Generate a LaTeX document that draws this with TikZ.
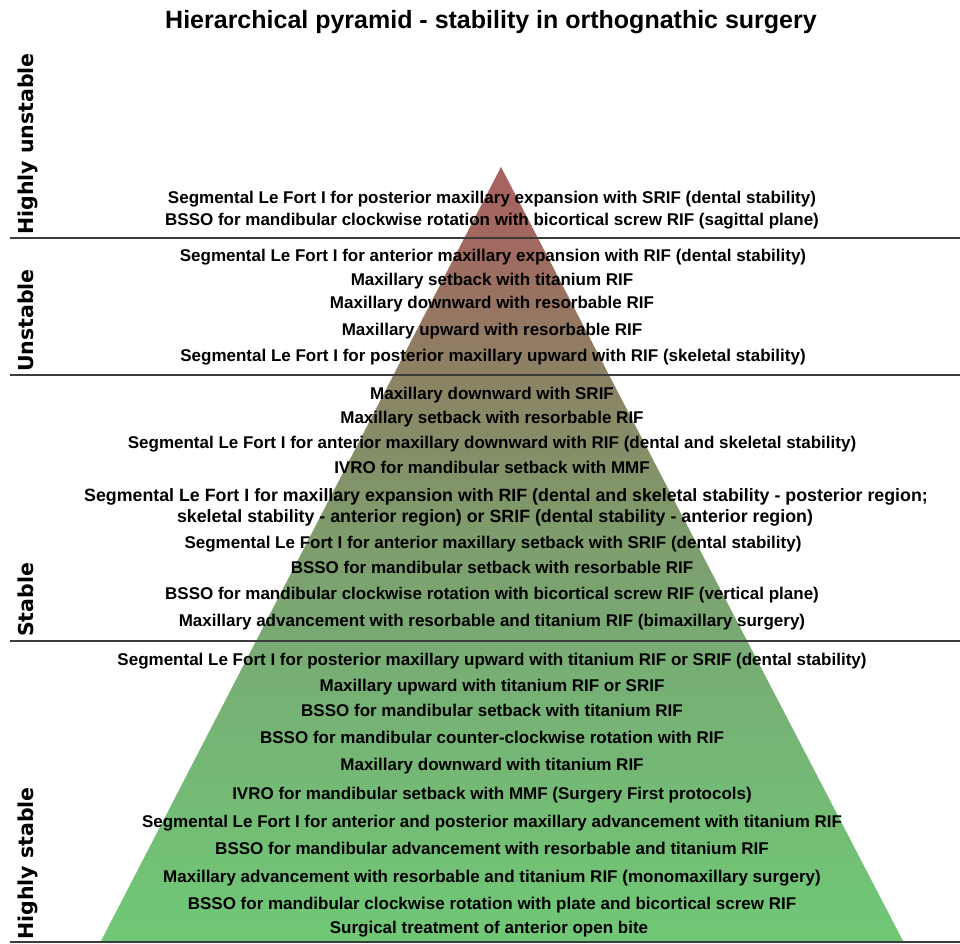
\documentclass[tikz,border=0pt]{standalone}
\usepackage{fontspec}
\setmainfont{Liberation Sans}
\newfontfamily\catfont{DejaVu Sans}
\definecolor{pTop}{RGB}{170,96,96}
\definecolor{pA}{RGB}{160,106,96}
\definecolor{pB}{RGB}{140,130,100}
\definecolor{pC}{RGB}{128,152,106}
\definecolor{pD}{RGB}{120,172,116}
\definecolor{pBot}{RGB}{112,200,118}
\definecolor{sepgray}{RGB}{60,60,60}
\pgfdeclareverticalshading{pyrshade}{100bp}{color(0bp)=(pBot); color(25bp)=(pBot); color(44bp)=(pD); color(53bp)=(pC); color(61.6bp)=(pB); color(69.6bp)=(pA); color(75bp)=(pTop); color(100bp)=(pTop)}
\tikzset{
  lbl/.style={anchor=base, inner sep=0pt, font=\fontsize{17}{21}\selectfont\bfseries, text=black},
  lblwide/.style={lbl, font=\fontsize{17.8}{21}\selectfont\bfseries},
  cat/.style={anchor=base west, rotate=90, inner sep=0pt, font=\catfont\fontsize{20.5}{24}\selectfont\bfseries, text=black},
  sepline/.style={draw=sepgray, line width=2pt},
  titlestyle/.style={anchor=base, inner sep=0pt, font=\fontsize{25}{30}\selectfont\bfseries}
}
\begin{document}
\begin{tikzpicture}[x=1pt,y=-1pt]
\useasboundingbox[fill=white] (0,0) rectangle (960,943);
% pyramid
\coordinate (apex) at (501,167);
\coordinate (bl) at (101,941);
\coordinate (br) at (903,941);
\path[shading=pyrshade] (apex) -- (br) -- (bl) -- cycle;
% title
\node[titlestyle] (title) at (491,28) {Hierarchical pyramid - stability in orthognathic surgery};
% separators
\coordinate (s1l) at (10,237.5); \coordinate (s1r) at (960,237.5);
\coordinate (s2l) at (10,374.5); \coordinate (s2r) at (960,374.5);
\coordinate (s3l) at (10,640.5); \coordinate (s3r) at (960,640.5);
\coordinate (s4l) at (10,941.5); \coordinate (s4r) at (960,941.5);
\draw[sepline] (s1l) -- (s1r);
\draw[sepline] (s2l) -- (s2r);
\draw[sepline] (s3l) -- (s3r);
\draw[sepline] (s4l) -- (s4r);
% category labels
\node[cat] (c1) at (33.5,235) {Highly unstable};
\node[cat] (c2) at (33.5,372) {Unstable};
\node[cat] (c3) at (33.5,637) {Stable};
\node[cat] (c4) at (33.5,940) {Highly stable};
% texts
\node[lbl] (t1) at (492,203) {Segmental Le Fort I for posterior maxillary expansion with SRIF (dental stability)};
\node[lbl] (t2) at (492,225) {BSSO for mandibular clockwise rotation with bicortical screw RIF (sagittal plane)};
\node[lbl] (t3) at (493,261) {Segmental Le Fort I for anterior maxillary expansion with RIF (dental stability)};
\node[lbl] (t4) at (492,285) {Maxillary setback with titanium RIF};
\node[lbl] (t5) at (492,308) {Maxillary downward with resorbable RIF};
\node[lbl] (t6) at (492,335) {Maxillary upward with resorbable RIF};
\node[lbl] (t7) at (493,361) {Segmental Le Fort I for posterior maxillary upward with RIF (skeletal stability)};
\node[lbl] (t8) at (492,399) {Maxillary downward with SRIF};
\node[lbl] (t9) at (492,423) {Maxillary setback with resorbable RIF};
\node[lbl] (t10) at (492,448) {Segmental Le Fort I for anterior maxillary downward with RIF (dental and skeletal stability)};
\node[lbl] (t11) at (492,473) {IVRO for mandibular setback with MMF};
\node[lblwide] (t12a) at (506,501) {Segmental Le Fort I for maxillary expansion with RIF (dental and skeletal stability - posterior region;};
\node[lblwide] (t12b) at (495,522) {skeletal stability - anterior region) or SRIF (dental stability - anterior region)};
\node[lbl] (t13) at (493,548) {Segmental Le Fort I for anterior maxillary setback with SRIF (dental stability)};
\node[lbl] (t14) at (492,573) {BSSO for mandibular setback with resorbable RIF};
\node[lbl] (t15) at (492,599) {BSSO for mandibular clockwise rotation with bicortical screw RIF (vertical plane)};
\node[lbl] (t16) at (492,626) {Maxillary advancement with resorbable and titanium RIF (bimaxillary surgery)};
\node[lbl] (t17) at (492,665) {Segmental Le Fort I for posterior maxillary upward with titanium RIF or SRIF (dental stability)};
\node[lbl] (t18) at (492,691) {Maxillary upward with titanium RIF or SRIF};
\node[lbl] (t19) at (492,716) {BSSO for mandibular setback with titanium RIF};
\node[lbl] (t20) at (492,743) {BSSO for mandibular counter-clockwise rotation with RIF};
\node[lbl] (t21) at (492,770) {Maxillary downward with titanium RIF};
\node[lbl] (t22) at (492,799) {IVRO for mandibular setback with MMF (Surgery First protocols)};
\node[lbl] (t23) at (492,827) {Segmental Le Fort I for anterior and posterior maxillary advancement with titanium RIF};
\node[lbl] (t24) at (492,854) {BSSO for mandibular advancement with resorbable and titanium RIF};
\node[lbl] (t25) at (492,882) {Maxillary advancement with resorbable and titanium RIF (monomaxillary surgery)};
\node[lbl] (t26) at (492,909) {BSSO for mandibular clockwise rotation with plate and bicortical screw RIF};
\node[lbl] (t27) at (489,933) {Surgical treatment of anterior open bite};
\end{tikzpicture}
\end{document}
